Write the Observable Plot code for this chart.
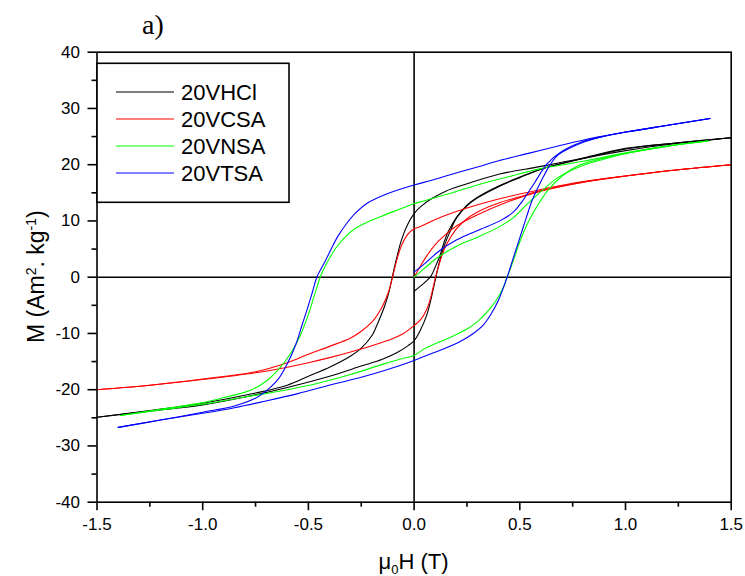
<!DOCTYPE html>
<html>
<head>
<meta charset="utf-8">
<script src="https://cdn.jsdelivr.net/npm/d3@7"></script>
<script src="https://cdn.jsdelivr.net/npm/@observablehq/plot@0.6"></script>
<style>
  html, body { margin: 0; padding: 0; background: #fff; }
  #chart { width: 745px; height: 576px; }
</style>
</head>
<body>
<div id="chart"></div>
<script>
// ---- data ----
const samples = ["20VHCl", "20VCSA", "20VNSA", "20VTSA"];
const colors = ["#000000", "#ff0000", "#00ff00", "#0000ff"];

const xTicks = [-1.5, -1.0, -0.5, 0.0, 0.5, 1.0, 1.5];
const xMinorTicks = [-1.25, -0.75, -0.25, 0.25, 0.75, 1.25];
const yTicks = [-40, -30, -20, -10, 0, 10, 20, 30, 40];
const yMinorTicks = [-35, -25, -15, -5, 5, 15, 25, 35];

// 20VHCl
const hclVirginH = [0, 0.03, 0.06, 0.08, 0.1, 0.12, 0.14, 0.16, 0.2, 0.25, 0.3, 0.4, 0.5, 0.6, 0.8, 1.0, 1.25, 1.5];
const hclVirginM = [-2.5, -1.6, -0.6, 0.2, 1.8, 3.6, 6.0, 8.0, 10.6, 12.8, 14.2, 16.2, 17.8, 19.2, 21.1, 22.8, 23.9, 24.8];
const hclDownH = [1.5, 1.25, 1.0, 0.8, 0.6, 0.4, 0.25, 0.15, 0.08, 0.03, 0, -0.03, -0.06, -0.08, -0.1, -0.12, -0.14, -0.17, -0.2, -0.25, -0.3, -0.4, -0.5, -0.6, -0.75, -1.0, -1.25, -1.5];
const hclDownM = [24.8, 23.9, 22.9, 21.2, 19.7, 18.3, 16.6, 15.3, 13.9, 12.5, 11.3, 9.4, 6.6, 3.8, 0.6, -2.8, -5.2, -8.0, -10.4, -12.6, -14.0, -16.0, -17.6, -19.2, -20.6, -22.4, -23.7, -24.9];
const hclUpH = [-1.5, -1.25, -1.0, -0.8, -0.6, -0.4, -0.25, -0.15, -0.08, -0.03, 0, 0.03, 0.06, 0.08, 0.1, 0.12, 0.14, 0.17, 0.2, 0.25, 0.3, 0.4, 0.5, 0.6, 0.75, 1.0, 1.25, 1.5];
const hclUpM = [-24.9, -23.8, -22.7, -21.3, -19.6, -17.6, -15.8, -14.6, -13.4, -12.2, -11.3, -9.4, -6.7, -3.9, -0.5, 2.7, 5.3, 8.1, 10.5, 12.7, 14.1, 16.1, 17.7, 19.2, 20.7, 22.5, 23.8, 24.8];

// 20VCSA
const csaVirginH = [0, 0.03, 0.06, 0.1, 0.15, 0.2, 0.3, 0.45, 0.6, 0.8, 1.0, 1.25, 1.5];
const csaVirginM = [0, 2.0, 3.8, 5.8, 7.6, 9.1, 11.1, 13.5, 15.3, 16.9, 18.0, 19.1, 20.0];
const csaDownH = [1.5, 1.25, 1.0, 0.8, 0.6, 0.4, 0.25, 0.15, 0.08, 0.03, 0, -0.03, -0.06, -0.08, -0.1, -0.12, -0.15, -0.2, -0.25, -0.3, -0.4, -0.5, -0.6, -0.75, -1.0, -1.25, -1.5];
const csaDownM = [20.0, 19.1, 18.0, 17.0, 15.6, 13.9, 12.3, 11.0, 9.9, 9.0, 8.6, 7.6, 5.6, 3.3, 0.3, -2.5, -5.2, -8.0, -9.6, -10.8, -12.3, -13.7, -15.2, -16.8, -18.1, -19.2, -20.0];
const csaUpH = [-1.5, -1.25, -1.0, -0.75, -0.6, -0.5, -0.4, -0.3, -0.2, -0.1, -0.05, 0, 0.03, 0.06, 0.08, 0.1, 0.12, 0.15, 0.2, 0.25, 0.3, 0.4, 0.5, 0.6, 0.8, 1.0, 1.25, 1.5];
const csaUpM = [-20.0, -19.2, -18.2, -17.0, -16.0, -15.2, -14.3, -13.3, -12.2, -10.9, -10.0, -8.6, -7.6, -5.7, -3.4, -0.2, 2.5, 5.6, 8.6, 10.4, 11.6, 13.2, 14.3, 15.4, 16.9, 18.0, 19.1, 20.0];

// 20VNSA
const nsaVirginH = [0, 0.05, 0.1, 0.2, 0.3, 0.4, 0.47, 0.53, 0.6, 0.68, 0.78, 0.9, 1.0, 1.2, 1.39];
const nsaVirginM = [0, 1.6, 3.2, 5.5, 7.1, 8.9, 10.6, 12.8, 15.2, 17.7, 19.6, 21.0, 22.0, 23.3, 24.2];
const nsaDownH = [1.39, 1.2, 1.0, 0.8, 0.6, 0.45, 0.3, 0.15, 0.05, 0, -0.06, -0.15, -0.22, -0.28, -0.33, -0.37, -0.4, -0.42, -0.44, -0.47, -0.5, -0.54, -0.58, -0.63, -0.7, -0.78, -0.9, -1.0, -1.2, -1.39];
const nsaDownM = [24.2, 23.3, 22.1, 20.6, 19.3, 17.9, 16.4, 14.7, 13.6, 13.1, 12.2, 10.9, 9.8, 8.6, 7.0, 5.2, 3.4, 2.0, 0.4, -3.0, -6.6, -10.5, -13.3, -15.9, -18.5, -20.2, -21.4, -22.3, -23.5, -24.6];
const nsaUpH = [-1.39, -1.2, -1.0, -0.8, -0.6, -0.45, -0.3, -0.15, -0.05, 0, 0.05, 0.17, 0.25, 0.3, 0.35, 0.39, 0.42, 0.44, 0.47, 0.5, 0.54, 0.58, 0.63, 0.7, 0.78, 0.9, 1.0, 1.2, 1.39];
const nsaUpM = [-24.6, -23.6, -22.6, -21.3, -20.0, -18.8, -17.3, -15.5, -14.4, -13.9, -12.7, -10.7, -9.2, -7.9, -6.0, -4.0, -2.0, 0, 3.0, 6.3, 9.8, 12.5, 15.3, 18.0, 19.9, 21.2, 22.0, 23.3, 24.2];

// 20VTSA
const tsaVirginH = [0, 0.05, 0.12, 0.2, 0.3, 0.41, 0.47, 0.51, 0.57, 0.63, 0.7, 0.79, 0.88, 1.0, 1.2, 1.4];
const tsaVirginM = [0.9, 2.4, 4.7, 6.6, 8.3, 10.1, 11.6, 13.4, 16.8, 20.2, 22.4, 24.0, 24.9, 25.8, 27.0, 28.2];
const tsaDownH = [1.4, 1.2, 1.0, 0.85, 0.7, 0.55, 0.4, 0.3, 0.15, 0.08, 0, -0.13, -0.22, -0.28, -0.32, -0.36, -0.39, -0.42, -0.46, -0.48, -0.5, -0.53, -0.56, -0.6, -0.64, -0.68, -0.74, -0.85, -1.0, -1.2, -1.4];
const tsaDownM = [28.2, 27.0, 25.8, 24.8, 23.5, 22.1, 20.7, 19.6, 18.0, 17.2, 16.4, 14.8, 13.2, 11.3, 9.5, 7.3, 5.2, 2.9, 0, -2.5, -5.0, -8.5, -12.0, -15.4, -18.0, -19.6, -21.3, -22.9, -24.0, -25.4, -26.7];
const tsaUpH = [-1.4, -1.2, -1.0, -0.85, -0.7, -0.55, -0.38, -0.25, -0.14, 0, 0.08, 0.15, 0.22, 0.28, 0.32, 0.36, 0.4, 0.44, 0.47, 0.5, 0.53, 0.56, 0.6, 0.64, 0.68, 0.74, 0.8, 0.88, 1.0, 1.2, 1.4];
const tsaUpM = [-26.7, -25.4, -24.2, -23.2, -22.0, -20.7, -19.0, -17.8, -16.6, -14.8, -13.6, -12.6, -11.4, -10.0, -8.8, -6.8, -4.0, 0, 3.5, 7.0, 10.5, 13.8, 17.0, 19.8, 21.7, 23.0, 24.0, 24.9, 25.8, 27.0, 28.2];

// ---- build table ----
const branches = [
  ["20VHCl", "virgin", hclVirginH, hclVirginM], ["20VHCl", "down", hclDownH, hclDownM], ["20VHCl", "up", hclUpH, hclUpM],
  ["20VCSA", "virgin", csaVirginH, csaVirginM], ["20VCSA", "down", csaDownH, csaDownM], ["20VCSA", "up", csaUpH, csaUpM],
  ["20VNSA", "virgin", nsaVirginH, nsaVirginM], ["20VNSA", "down", nsaDownH, nsaDownM], ["20VNSA", "up", nsaUpH, nsaUpM],
  ["20VTSA", "virgin", tsaVirginH, tsaVirginM], ["20VTSA", "down", tsaDownH, tsaDownM], ["20VTSA", "up", tsaUpH, tsaUpM]
];
const rows = [];
for (const [sample, branch, H, M] of branches) {
  H.forEach((h, i) => rows.push({sample, branch, h, m: M[i]}));
}

const W = 745, HGT = 576;
const mL = 96.5, mR = 14.3, mT = 51.7, mB = 74.3;
const FONT = "'Liberation Sans', Arial, Helvetica, sans-serif";

const plot = Plot.plot({
  width: W, height: HGT,
  marginLeft: mL, marginRight: mR, marginTop: mT, marginBottom: mB,
  style: {fontFamily: FONT, fontSize: "17px", color: "#000", background: "#fff", overflow: "visible"},
  x: {domain: [-1.5, 1.5], label: null},
  y: {domain: [-40, 40], label: null},
  color: {domain: samples, range: colors},
  marks: [
    Plot.ruleY([0], {stroke: "#000", strokeWidth: 1.6}),
    Plot.ruleX([0], {stroke: "#000", strokeWidth: 1.6}),
    Plot.line(rows, {x: "h", y: "m", z: d => d.sample + "|" + d.branch, stroke: "sample", strokeWidth: 1.1, curve: "catmull-rom"}),
    Plot.frame({stroke: "#000", strokeWidth: 1.6}),
    Plot.axisX(xTicks, {tickSize: 8.5, tickPadding: 7, tickFormat: d => d.toFixed(1), strokeWidth: 1.6, label: null}),
    Plot.axisX(xMinorTicks, {tickSize: 5, tickFormat: () => "", strokeWidth: 1.6, label: null}),
    Plot.axisY(yTicks, {tickSize: 9, tickPadding: 8, tickFormat: d => String(d), strokeWidth: 1.6, label: null}),
    Plot.axisY(yMinorTicks, {tickSize: 5, tickFormat: () => "", strokeWidth: 1.6, label: null})
  ]
});
document.getElementById("chart").appendChild(plot);

// ---- annotations: title, axis labels, legend ----
const svg = d3.select(plot);
const fx = (mL + (W - mR)) / 2;
const fy = (mT + (HGT - mB)) / 2;

svg.append("text")
  .attr("x", 153).attr("y", 34)
  .attr("text-anchor", "middle")
  .style("font-family", "'Liberation Serif', 'Times New Roman', serif")
  .style("font-size", "28px")
  .text("a)");

// x label: μ0H (T)
const xl = svg.append("text")
  .attr("x", fx).attr("y", 569)
  .attr("text-anchor", "middle")
  .style("font-family", FONT).style("font-size", "22px");
xl.append("tspan").text("\u03bc");
xl.append("tspan").attr("dy", 5).style("font-size", "13px").text("0");
xl.append("tspan").attr("dy", -5).text("H (T)");

// y label: M (Am². kg-1)
const yl = svg.append("text")
  .attr("transform", `translate(44,${fy}) rotate(-90)`)
  .attr("text-anchor", "middle")
  .style("font-family", FONT).style("font-size", "23px");
yl.append("tspan").text("M (Am");
yl.append("tspan").attr("dy", -8).style("font-size", "14px").text("2");
yl.append("tspan").attr("dy", 8).text(". kg");
yl.append("tspan").attr("dy", -8).style("font-size", "14px").text("-1");
yl.append("tspan").attr("dy", 8).text(")");

// legend
const lg = svg.append("g");
lg.append("rect")
  .attr("x", 97).attr("y", 63.3).attr("width", 192).attr("height", 139)
  .attr("fill", "#fff").attr("stroke", "#000").attr("stroke-width", 1.6);
samples.forEach((s, i) => {
  const yy = 92 + i * 27;
  lg.append("line").attr("x1", 116).attr("x2", 174).attr("y1", yy).attr("y2", yy)
    .attr("stroke", colors[i]).attr("stroke-width", 1.1);
  lg.append("text").attr("x", 181).attr("y", yy + 8)
    .attr("text-anchor", "start")
    .style("font-family", FONT).style("font-size", "22px").text(s);
});
</script>
</body>
</html>
